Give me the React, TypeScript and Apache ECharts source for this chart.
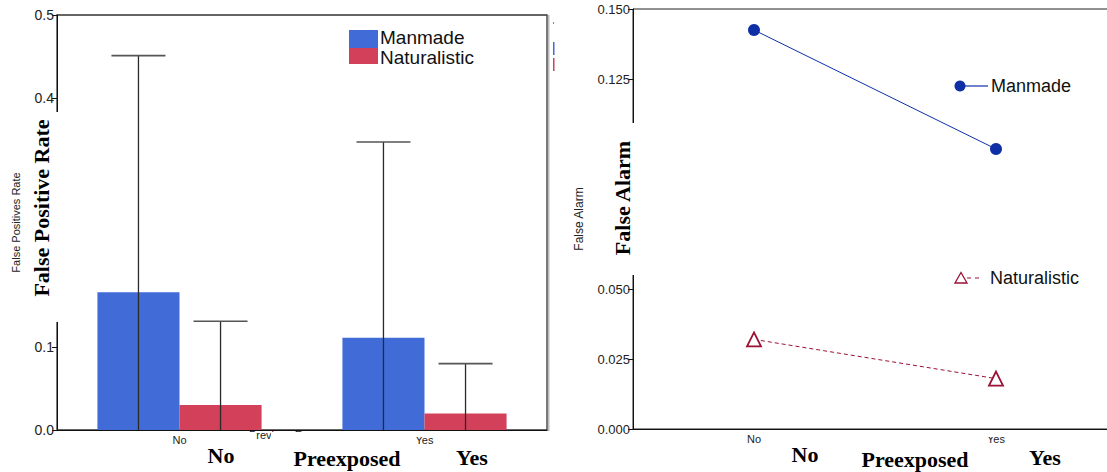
import React, { useEffect, useRef } from 'react';
import * as echarts from 'echarts';

const categories = ['No', 'Yes'];
const manmadeFPR = [0.166, 0.111];
const naturalisticFPR = [0.03, 0.02];
const manmadeFPRErr = [0.285, 0.236];
const naturalisticFPRErr = [0.101, 0.06];
const manmadeFA = [0.1425, 0.1];
const naturalisticFA = [0.032, 0.018];
const seriesNames = ['Manmade', 'Naturalistic'];

const BLUE_BAR = '#416cd8';
const RED_BAR = '#d2405a';
const BLUE_LINE = '#0f2fa6';
const RED_LINE = '#9b1034';
const SANS = 'Liberation Sans, Arial, sans-serif';
const SERIF = 'Liberation Serif, Times New Roman, serif';
const GAP = 0.33;

function errorSeries(means: number[], errs: number[], side: number) {
  return {
    type: 'custom',
    xAxisIndex: 0,
    yAxisIndex: 0,
    z: 10,
    encode: { x: 0, y: [1, 2] },
    data: categories.map((_, i) => [i, Math.max(0, means[i] - errs[i]), means[i] + errs[i]]),
    renderItem: (params: any, api: any) => {
      const cat = api.value(0);
      const lo = api.coord([cat, api.value(1)]);
      const hi = api.coord([cat, api.value(2)]);
      const band = api.size([1, 0])[0];
      const barW = (band * (1 - GAP)) / 2;
      const x = hi[0] + (side * barW) / 2;
      const cap = 27;
      return {
        type: 'group',
        children: [
          { type: 'line', shape: { x1: x, y1: hi[1], x2: x, y2: lo[1] }, style: { stroke: '#2a2a2a', lineWidth: 1.3 } },
          { type: 'line', shape: { x1: x - cap, y1: hi[1], x2: x + cap, y2: hi[1] }, style: { stroke: '#555', lineWidth: 1.6 } },
        ],
      };
    },
  };
}

const whiteRect = (x: number, y: number, w: number, h: number) => ({
  type: 'rect',
  z: 100,
  shape: { x, y, width: w, height: h },
  style: { fill: '#fff' },
});

const boldText = (text: string, x: number, y: number, rotate = false) => ({
  type: 'text',
  z: 110,
  x,
  y,
  rotation: rotate ? Math.PI / 2 : 0,
  style: {
    text,
    font: `bold 22px ${SERIF}`,
    fill: '#000',
    align: 'center',
    verticalAlign: rotate ? 'middle' : 'top',
  },
});

const legendText = (text: string, x: number, y: number, size: number) => ({
  type: 'text',
  z: 50,
  x,
  y,
  style: { text, font: `${size}px ${SANS}`, fill: '#111', align: 'left', verticalAlign: 'middle' },
});

export default function App() {
  const ref = useRef<HTMLDivElement>(null);
  useEffect(() => {
    if (!ref.current) return;
    const chart = echarts.init(ref.current, undefined, { renderer: 'svg' });
    const axisLine = { show: true, lineStyle: { color: '#111', width: 1 } };
    const xLabel = { color: '#222', fontSize: 11, fontFamily: SANS, margin: 4 };
    chart.setOption({
      animation: false,
      backgroundColor: '#fff',
      grid: [
        { left: 57, top: 15, width: 490, height: 415, show: true, borderColor: '#333', borderWidth: 1.3, containLabel: false, outerBoundsMode: 'none' },
        { left: 633, top: 9, width: 484, height: 420, show: true, borderColor: '#222', borderWidth: 1, containLabel: false, outerBoundsMode: 'none' },
      ],
      xAxis: [
        {
          type: 'category', gridIndex: 0, data: categories,
          axisLine, axisTick: { show: false },
          axisLabel: xLabel,
        },
        {
          type: 'category', gridIndex: 1, data: categories,
          axisLine, axisTick: { show: false },
          axisLabel: xLabel,
        },
      ],
      yAxis: [
        {
          type: 'value', gridIndex: 0, min: 0, max: 0.5, interval: 0.1,
          axisLine, axisTick: { show: true, length: 5, lineStyle: { color: '#111' } },
          splitLine: { show: false },
          axisLabel: { color: '#222', fontSize: 14, fontFamily: SANS, margin: 3, formatter: (v: number) => v.toFixed(1) },
          name: 'False Positives Rate', nameLocation: 'middle', nameGap: 36, nameRotate: 90,
          nameTextStyle: { color: '#222', fontSize: 11, fontFamily: SANS },
        },
        {
          type: 'value', gridIndex: 1, min: 0, max: 0.15, interval: 0.025,
          axisLine, axisTick: { show: true, length: 5, lineStyle: { color: '#111' } },
          splitLine: { show: false },
          axisLabel: { color: '#222', fontSize: 13, fontFamily: SANS, margin: 3, formatter: (v: number) => v.toFixed(3) },
          name: 'False Alarm', nameLocation: 'middle', nameGap: 48, nameRotate: 90,
          nameTextStyle: { color: '#222', fontSize: 12, fontFamily: SANS },
        },
      ],
      series: [
        { name: seriesNames[0], type: 'bar', xAxisIndex: 0, yAxisIndex: 0, data: manmadeFPR, itemStyle: { color: BLUE_BAR }, barGap: '0%', barCategoryGap: '33%' },
        { name: seriesNames[1], type: 'bar', xAxisIndex: 0, yAxisIndex: 0, data: naturalisticFPR, itemStyle: { color: RED_BAR }, barGap: '0%', barCategoryGap: '33%' },
        errorSeries(manmadeFPR, manmadeFPRErr, -1),
        errorSeries(naturalisticFPR, naturalisticFPRErr, 1),
        {
          name: seriesNames[0], type: 'line', xAxisIndex: 1, yAxisIndex: 1, data: manmadeFA,
          symbol: 'circle', symbolSize: 12,
          itemStyle: { color: BLUE_LINE },
          lineStyle: { color: BLUE_LINE, width: 1 },
        },
        {
          name: seriesNames[1], type: 'line', xAxisIndex: 1, yAxisIndex: 1, data: naturalisticFA,
          symbol: 'triangle', symbolSize: 14,
          itemStyle: { color: '#fff', borderColor: RED_LINE, borderWidth: 1.8 },
          lineStyle: { color: RED_LINE, width: 1, type: [4, 3] },
        },
      ],
      graphic: [
        // left legend
        { type: 'rect', z: 50, shape: { x: 349, y: 30, width: 29, height: 18 }, style: { fill: BLUE_BAR } },
        { type: 'rect', z: 50, shape: { x: 349, y: 48, width: 29, height: 16 }, style: { fill: RED_BAR } },
        legendText(seriesNames[0], 380, 37.5, 19),
        legendText(seriesNames[1], 380, 57, 19),
        // fragments right of left panel
        { type: 'rect', z: 50, shape: { x: 553, y: 22, width: 1, height: 2 }, style: { fill: '#888' } },
        { type: 'rect', z: 50, shape: { x: 553, y: 42, width: 1.5, height: 13 }, style: { fill: BLUE_BAR } },
        { type: 'rect', z: 50, shape: { x: 553, y: 58, width: 1.5, height: 13 }, style: { fill: RED_BAR } },
        { type: 'rect', z: 49, shape: { x: 548, y: 15, width: 1.5, height: 416 }, style: { fill: '#bbb' } },
        // right legend
        { type: 'line', z: 50, shape: { x1: 960, y1: 86, x2: 988, y2: 86 }, style: { stroke: BLUE_LINE, lineWidth: 1.2 } },
        { type: 'circle', z: 51, shape: { cx: 960, cy: 86, r: 5.5 }, style: { fill: BLUE_LINE } },
        legendText(seriesNames[0], 991, 86, 18),
        { type: 'line', z: 50, shape: { x1: 967, y1: 278, x2: 982, y2: 278 }, style: { stroke: RED_LINE, lineWidth: 1.2, lineDash: [4, 4] } },
        { type: 'polygon', z: 51, shape: { points: [[955, 283], [961, 272.5], [967, 283]] }, style: { fill: '#fff', stroke: RED_LINE, lineWidth: 1.3 } },
        legendText(seriesNames[1], 990, 278, 18),
        // small x-axis name (left), mostly covered
        { type: 'text', z: 60, x: 249, y: 429, style: { text: 'Previous Exposure', font: `11px ${SANS}`, fill: '#222', align: 'left', verticalAlign: 'top' } },
        // covering boxes
        whiteRect(22, 112, 40, 210),
        whiteRect(597, 123, 42, 152),
        whiteRect(195, 432, 61, 40),
        whiteRect(271, 432, 139, 40),
        whiteRect(412, 431, 30, 6),
        whiteRect(450, 444, 50, 28),
        whiteRect(982, 431, 30, 6),
        // bold overlay labels
        boldText('False Positive Rate', 41, 208, true),
        boldText('False Alarm', 622, 198, true),
        boldText('No', 221, 444),
        boldText('Preexposed', 347, 447),
        boldText('Yes', 472, 446),
        boldText('No', 805, 443),
        boldText('Preexposed', 915, 448),
        boldText('Yes', 1045, 446),
      ],
    });
    return () => chart.dispose();
  }, []);
  return <div ref={ref} style={{ position: 'absolute', left: 0, top: 0, width: 1107, height: 472 }} />;
}
